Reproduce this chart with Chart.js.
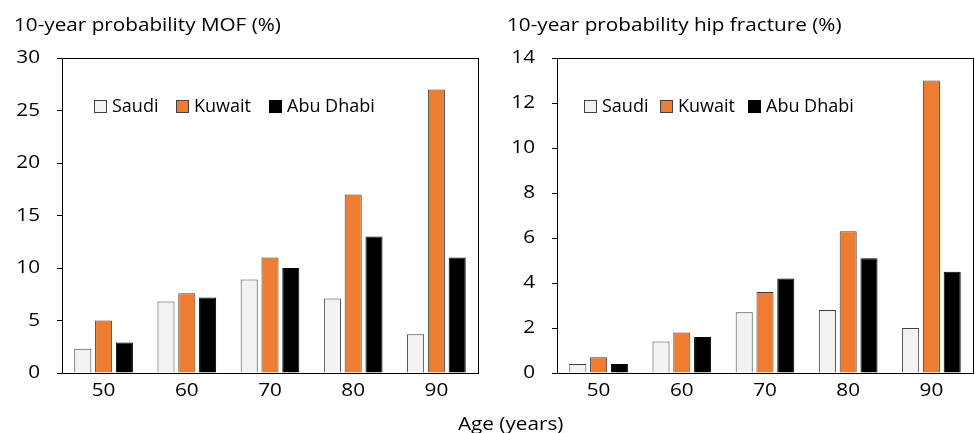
<!DOCTYPE html>
<html><head><meta charset="utf-8">
<script src="https://cdn.jsdelivr.net/npm/chart.js@4"></script>
<style>
html,body{margin:0;padding:0;background:#fff;width:975px;height:433px;overflow:hidden;}
.wrap{position:absolute;top:0;height:433px;}
#xt{position:absolute;left:458px;top:411px;font:18px "Open Sans", sans-serif;color:#000;white-space:nowrap;line-height:24px;transform:scaleX(1.15);transform-origin:0 0;}
</style></head>
<body>
<div class="wrap" style="left:0;width:487px"><canvas id="c1" width="487" height="433"></canvas></div>
<div class="wrap" style="left:487px;width:488px"><canvas id="c2" width="488" height="433"></canvas></div>
<div id="xt">Age (years)</div>
<script>
const ages = ['50','60','70','80','90'];
const seriesNames = ['Saudi','Kuwait','Abu Dhabi'];
const mofSaudi = [2.3, 6.8, 8.9, 7.1, 3.7];
const mofKuwait = [5.0, 7.6, 11.0, 17.0, 27.0];
const mofAbuDhabi = [2.9, 7.2, 10.0, 13.0, 11.0];
const hipSaudi = [0.4, 1.4, 2.7, 2.8, 2.0];
const hipKuwait = [0.7, 1.8, 3.6, 6.3, 13.0];
const hipAbuDhabi = [0.4, 1.6, 4.2, 5.1, 4.5];
const mofTicks = [0, 5, 10, 15, 20, 25, 30];
const hipTicks = [0, 2, 4, 6, 8, 10, 12, 14];

const FONT = '"Open Sans", sans-serif';
const SX = 1.15;
const fills = ['#f2f2f2', '#ed7d31', '#000000'];
const borders = ['#404040', '#404040', '#000000'];

function widenText(canvas) {
  const ctx = canvas.getContext('2d');
  const orig = ctx.fillText.bind(ctx);
  ctx.textStretch = SX;
  ctx.fillText = function (t, x, y, mw) {
    const s = this.textStretch;
    this.save();
    this.translate(x, y);
    this.scale(s, 1);
    if (mw === undefined) orig(t, 0, 0); else orig(t, 0, 0, mw / s);
    this.restore();
  };
}

const framePlugin = {
  id: 'frame',
  afterDraw(chart, args, opts) {
    const ctx = chart.ctx, a = chart.chartArea;
    ctx.save();
    ctx.strokeStyle = '#000'; ctx.lineWidth = 1;
    ctx.strokeRect(Math.round(a.left) + 0.5, Math.round(a.top) + 0.5, Math.round(a.right - a.left), Math.round(a.bottom - a.top));
    ctx.fillStyle = '#000';
    ctx.font = '18px ' + FONT;
    ctx.textBaseline = 'middle';
    ctx.textAlign = 'left';
    ctx.fillText(opts.title, opts.titleX, 26);
    ctx.textStretch = 1;
    const ly = 106;
    opts.legendX.forEach((x, i) => {
      ctx.fillStyle = fills[i];
      ctx.fillRect(x, ly - 6, 13, 13);
      ctx.strokeStyle = borders[i];
      ctx.strokeRect(x + 0.5, ly - 5.5, 12, 12);
      ctx.fillStyle = '#000';
      ctx.fillText(seriesNames[i], x + 18, ly + 1);
    });
    ctx.textStretch = SX;
    ctx.restore();
  }
};

function makeChart(id, data, ticks, padLeftW, padRight, title, titleX, legendX) {
  const maxV = ticks[ticks.length - 1];
  const step = ticks[1] - ticks[0];
  const canvas = document.getElementById(id);
  widenText(canvas);
  return new Chart(canvas, {
    type: 'bar',
    data: {
      labels: ages,
      datasets: data.map((d, i) => ({
        label: seriesNames[i], data: d,
        backgroundColor: fills[i], borderColor: borders[i], borderWidth: 1,
        categoryPercentage: 0.75, barPercentage: 0.82
      }))
    },
    options: {
      responsive: false, animation: false,
      layout: { padding: { top: 58, right: padRight, bottom: 30, left: 0 } },
      plugins: { legend: { display: false }, tooltip: { enabled: false }, title: { display: false },
        frame: { title: title, titleX: titleX, legendX: legendX } },
      scales: {
        x: {
          grid: { display: false, drawTicks: false },
          border: { display: true, color: '#000', width: 1 },
          ticks: { color: '#000', font: { family: FONT, size: 18 }, padding: 7 },
          afterFit(s) { s.height = 30; }
        },
        y: {
          min: 0, max: maxV,
          grid: { display: true, drawOnChartArea: false, drawTicks: true, tickLength: 5, color: '#000' },
          border: { display: true, color: '#000', width: 1 },
          ticks: { stepSize: step, color: '#000', font: { family: FONT, size: 18 }, padding: 17 },
          afterFit(s) { s.width = padLeftW; }
        }
      }
    },
    plugins: [framePlugin]
  });
}

makeChart('c1', [mofSaudi, mofKuwait, mofAbuDhabi], mofTicks, 62, 9,
  '10-year probability MOF (%)', 14, [94, 176, 269]);
makeChart('c2', [hipSaudi, hipKuwait, hipAbuDhabi], hipTicks, 70, 2,
  '10-year probability hip fracture (%)', 20, [97, 173, 261]);
</script>
</body></html>
